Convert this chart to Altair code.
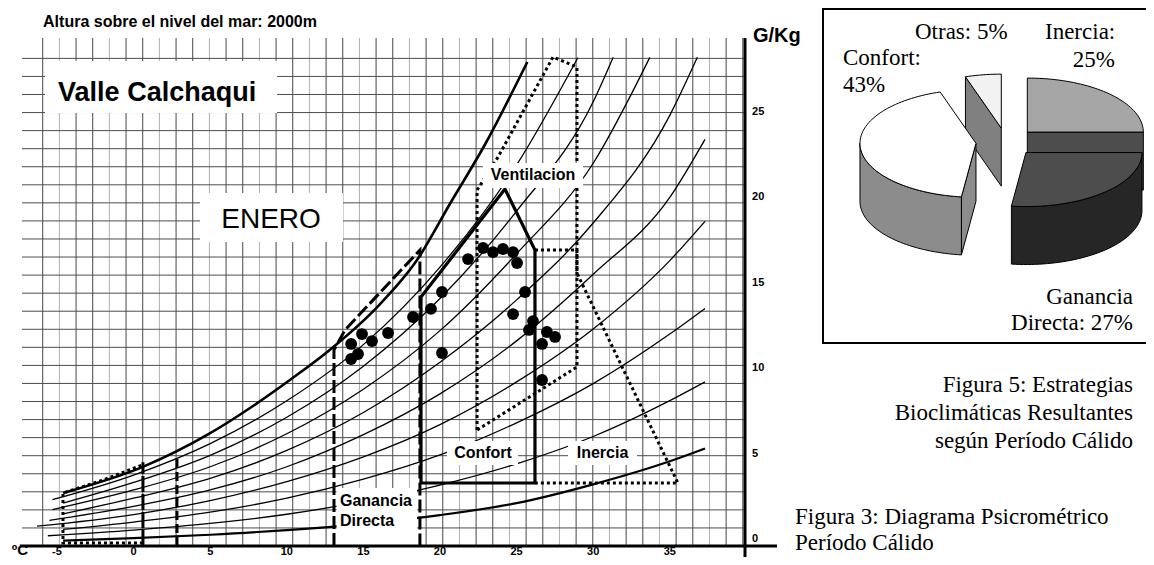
import math
import altair as alt
import pandas as pd

# ---------------- data ----------------
# relative-humidity curves: temperature (°C) and humidity ratio (g/kg)
rh100_t = [-4.6, 0.6, 4.8, 7.6, 10.2, 12.8, 15.9, 18.5, 20.7, 23.0, 25.7]
rh100_w = [2.69, 4.22, 6.09, 7.67, 9.31, 11.07, 13.58, 16.33, 19.70, 23.20, 27.93]
rh90_t = [-5.3, 0, 5, 10, 15, 20, 25, 29.0]
rh90_w = [2.30, 3.74, 5.58, 8.09, 11.38, 15.92, 21.90, 28.18]
rh80_t = [-4.6, 0, 5, 10, 15, 20, 25, 30, 31.3]
rh80_w = [2.10, 3.31, 4.90, 7.13, 10.12, 14.08, 19.20, 25.60, 28.20]
rh70_t = [-5.3, 0, 5, 10, 15, 20, 25, 30, 33.7]
rh70_w = [1.72, 2.87, 4.23, 6.16, 8.77, 12.20, 16.70, 22.00, 28.20]
rh60_t = [-4.6, 0, 5, 10, 15, 20, 25, 30, 35, 36.8]
rh60_w = [1.47, 2.39, 3.55, 5.19, 7.41, 10.35, 14.00, 18.50, 24.80, 28.20]
rh50_t = [-5.5, 0, 5, 10, 15, 20, 25, 30, 35, 37.3]
rh50_w = [1.09, 1.91, 2.87, 4.23, 6.11, 8.50, 11.60, 15.50, 20.00, 23.40]
rh40_t = [-6.3, 0, 5, 10, 15, 20, 25, 30, 35, 37.3]
rh40_w = [0.75, 1.43, 2.25, 3.36, 4.81, 6.70, 9.20, 12.30, 16.30, 18.60]
rh30_t = [-4.6, 0, 5, 10, 15, 20, 25, 30, 35, 37.3]
rh30_w = [0.56, 0.99, 1.57, 2.39, 3.50, 4.92, 6.80, 9.10, 12.00, 13.50]
rh20_t = [-5.6, 0, 5, 10, 15, 20, 25, 30, 35, 37.3]
rh20_w = [0.19, 0.52, 0.91, 1.45, 2.20, 3.16, 4.40, 6.00, 8.10, 9.20]
rh10_t = [-4.6, 0, 5, 10, 15, 20, 25, 30, 35, 37.3]
rh10_w = [-0.09, 0.05, 0.25, 0.52, 0.89, 1.40, 2.10, 3.20, 4.55, 5.30]

# strategy zones
comfort_t = [18.76, 26.20, 26.20, 24.24, 18.76, 18.76]
comfort_w = [3.28, 3.28, 16.92, 20.49, 14.17, 3.28]
vent_t = [22.42, 22.42, 23.79, 27.38, 28.94, 28.94, 22.42]
vent_w = [6.38, 20.43, 22.37, 28.22, 27.63, 10.07, 6.38]
inertia_t = [26.20, 28.94, 28.94, 35.53, 26.20]
inertia_w = [16.92, 16.92, 15.57, 3.28, 3.28]
gain_t = [13.08, 13.08, 13.80, 18.69, 18.69]
gain_w = [-0.41, 11.07, 12.24, 16.92, -0.41]
cold_t = [0.61, -4.61, -4.61, -2.0, 0.61]
cold_w = [-0.23, -0.23, 2.69, 3.45, 4.35]
cold_mid_t = [0.61, 0.61]
cold_mid_w = [-0.41, 4.50]
cold_right_t = [2.83, 2.83]
cold_right_w = [-0.41, 4.92]

# measured January points
pts_t = [14.20, 14.65, 14.20, 14.91, 15.56, 16.61, 18.24, 19.41, 20.13, 20.13, 21.83, 22.81,
         23.46, 24.11, 24.77, 25.03, 25.55, 24.77, 26.07, 25.81, 26.98, 27.51, 26.66, 26.66]
pts_w = [10.54, 10.83, 11.42, 12.00, 11.59, 12.06, 13.00, 13.47, 14.46, 10.89, 16.39, 17.04,
         16.80, 16.98, 16.80, 16.16, 14.46, 13.17, 12.76, 12.24, 12.12, 11.83, 11.42, 9.31]

x_ticks = [-5, 0, 5, 10, 15, 20, 25, 30, 35]
y_ticks = [0, 5, 10, 15, 20, 25]

# pie: clockwise from 12 o'clock
pie_labels = ["Inercia", "Ganancia Directa", "Confort", "Otras"]
pie_values = [25, 27, 43, 5]

# ---------------- layout ----------------
PL, PT, PW, PH = 22, 38, 723, 508          # plot rectangle on the page
TOTAL_W, TOTAL_H = 1138, 549
XD = [-7.285, 39.91]
YD = [-0.4098, 29.333]
XS = alt.Scale(domain=XD, nice=False, zero=False)
YS = alt.Scale(domain=YD, nice=False, zero=False)

PCX, PCY, RX, RY = 1006, 142, 116, 54       # pie centre / radii on the page
US = alt.Scale(domain=[(PL - PCX) / RX, (PL + PW - PCX) / RX], nice=False, zero=False)
VS = alt.Scale(domain=[(PCY - (PT + PH)) / RY, (PCY - PT) / RY], nice=False, zero=False)


def pu(px):
    return (px - PCX) / RX


def pv(py):
    return (PCY - py) / RY


def X(f="T"):
    return alt.X(f"{f}:Q", scale=XS, axis=None, title=None)


def Y(f="W"):
    return alt.Y(f"{f}:Q", scale=YS, axis=None, title=None)


def path_df(ts, ws, key="a"):
    return pd.DataFrame({"T": ts, "W": ws, "i": list(range(len(ts))), "k": key})


def path_layer(df, **mk):
    return alt.Chart(df).mark_line(**mk).encode(x=X(), y=Y(), order="i:Q", detail="k:N")


LS = "Liberation Sans"
SERIF = "Liberation Serif"

layers = []

# grid
vk = list(range(43))
vgrid = pd.DataFrame({
    "T": [-5.933 + 1.0881 * k for k in vk],
    "y0": YD[0], "y1": YD[1],
    "c": ["#b0b0b0" if k % 3 == 1 else "#474747" for k in vk],
})
layers.append(alt.Chart(vgrid).mark_rule(strokeWidth=1).encode(
    x=X(), y=Y("y0"), y2="y1:Q", color=alt.Color("c:N", scale=None)))

hgrid = pd.DataFrame({"W": [28.14 - 1.0574 * j for j in range(27)], "x0": XD[0], "x1": XD[1]})
layers.append(alt.Chart(hgrid).mark_rule(strokeWidth=1, color="#4d4d4d").encode(
    y=Y(), x=X("x0"), x2="x1:Q"))

# humidity curves
thin = pd.concat([path_df(t, w, k) for t, w, k in [
    (rh90_t, rh90_w, "90"), (rh80_t, rh80_w, "80"), (rh70_t, rh70_w, "70"),
    (rh60_t, rh60_w, "60"), (rh50_t, rh50_w, "50"), (rh40_t, rh40_w, "40"),
    (rh30_t, rh30_w, "30"), (rh20_t, rh20_w, "20")]])
layers.append(path_layer(thin, interpolate="monotone", color="black", strokeWidth=1.3))
layers.append(path_layer(path_df(rh10_t, rh10_w), interpolate="monotone", color="black", strokeWidth=2.2))
layers.append(path_layer(path_df(rh100_t, rh100_w), interpolate="monotone", color="black", strokeWidth=2.6))

# zones
layers.append(path_layer(path_df(cold_t, cold_w), color="black", strokeWidth=3, strokeDash=[3, 3]))
layers.append(path_layer(path_df(cold_mid_t, cold_mid_w), color="black", strokeWidth=3, strokeDash=[16, 2]))
layers.append(path_layer(path_df(cold_right_t, cold_right_w), color="black", strokeWidth=3, strokeDash=[9, 4]))
layers.append(path_layer(path_df(gain_t, gain_w), color="black", strokeWidth=3, strokeDash=[13, 4]))
layers.append(path_layer(path_df(vent_t, vent_w), color="black", strokeWidth=3, strokeDash=[3, 3]))
layers.append(path_layer(path_df(inertia_t, inertia_w), color="black", strokeWidth=3, strokeDash=[3, 3]))
layers.append(path_layer(path_df(comfort_t, comfort_w), color="black", strokeWidth=3.2))

# white label boxes
boxes = pd.DataFrame({
    "x0": [-5.78, 4.34, 22.81, 20.46, 28.36, 13.25],
    "x1": [9.36, 13.67, 29.34, 25.09, 32.86, 18.50],
    "y0": [24.94, 17.39, 20.55, 4.33, 4.33, -0.35],
    "y1": [27.99, 20.26, 22.01, 5.74, 5.74, 2.99],
})
layers.append(alt.Chart(boxes).mark_rect(fill="white").encode(x=X("x0"), x2="x1:Q", y=Y("y0"), y2="y1:Q"))

# points
layers.append(alt.Chart(pd.DataFrame({"T": pts_t, "W": pts_w})).mark_circle(
    size=140, color="black", opacity=1).encode(x=X(), y=Y()))


def psy_text(text, t, w, size, weight="bold", align="left", font=LS):
    df = pd.DataFrame({"T": [t], "W": [w], "txt": [text]})
    return alt.Chart(df).mark_text(font=font, fontSize=size, fontWeight=weight, align=align,
                                   baseline="middle", color="black").encode(x=X(), y=Y(), text="txt:N")


layers += [
    psy_text("Altura sobre el nivel del mar: 2000m", -5.91, 30.27, 16),
    psy_text("Valle Calchaqui", -4.93, 26.11, 27),
    psy_text("ENERO", 8.97, 18.68, 28, weight="normal", align="center"),
    psy_text("Ventilacion", 26.07, 21.31, 16, align="center"),
    psy_text("Confort", 22.81, 5.04, 16, align="center"),
    psy_text("Inercia", 30.61, 5.04, 16, align="center"),
    psy_text("Ganancia", 13.47, 2.22, 16),
    psy_text("Directa", 13.47, 1.05, 16),
    psy_text("G/Kg", 40.43, 29.45, 20),
]

# tick labels (placed through the scales)
xt = pd.DataFrame({"T": x_ticks, "W": -0.76, "txt": [str(v) for v in x_ticks]})
layers.append(alt.Chart(xt).mark_text(font=LS, fontSize=11, fontWeight="bold", align="center",
                                      baseline="middle", color="black").encode(x=X(), y=Y(), text="txt:N"))
yt = pd.DataFrame({"T": 40.37, "W": y_ticks, "txt": [str(v) for v in y_ticks]})
layers.append(alt.Chart(yt).mark_text(font=LS, fontSize=11, fontWeight="bold", align="left",
                                      baseline="middle", color="black").encode(x=X(), y=Y(), text="txt:N"))

# heavy axis lines
axes_df = pd.DataFrame({"T": [39.91], "W0": [-1.05], "W1": [YD[1]]})
layers.append(alt.Chart(axes_df).mark_rule(strokeWidth=3, color="black").encode(
    x=X(), y=Y("W0"), y2="W1:Q"))
base_df = pd.DataFrame({"W": [YD[0]], "T0": [-7.42], "T1": [42.0]})
layers.append(alt.Chart(base_df).mark_rule(strokeWidth=3, color="black").encode(
    y=Y(), x=X("T0"), x2="T1:Q"))

# unit label at the bottom-left corner (drawn after the baseline)
layers.append(psy_text("ºC", -7.95, -0.62, 15))

psy = alt.layer(*layers)

# ---------------- 3-D pie ----------------
EXPL = 0.26
DEPTH = 58 / RY
pie_top = ["#a6a6a6", "#4d4d4d", "#ffffff", "#f2f2f2"]
pie_side = ["#4d4d4d", "#262626", "#8c8c8c", "#808080"]
draw_order = [3, 0, 2, 1]

slices = []
cum = 0
for val in pie_values:
    b = 90 - cum * 3.6
    a = b - val * 3.6
    cum += val
    slices.append((a, b))


def rim(c, th, dv=0.0):
    r = math.radians(th)
    return (c[0] + math.cos(r), c[1] + math.sin(r) - dv)


def arc_pts(c, t0, t1, dv=0.0):
    n = max(2, int(abs(t1 - t0) / 2) + 1)
    return [rim(c, t0 + (t1 - t0) * s / n, dv) for s in range(n + 1)]


def U(f="u"):
    return alt.X(f"{f}:Q", scale=US, axis=None, title=None)


def V(f="v"):
    return alt.Y(f"{f}:Q", scale=VS, axis=None, title=None)


pie_layers = []
frame = pd.DataFrame({"u0": [pu(823)], "u1": [pu(1162)], "v0": [pv(9)], "v1": [pv(343)]})
pie_layers.append(alt.Chart(frame).mark_rect(fill="white", stroke="black", strokeWidth=2).encode(
    x=U("u0"), x2="u1:Q", y=V("v0"), y2="v1:Q"))

for idx in draw_order:
    a, b = slices[idx]
    m = math.radians((a + b) / 2)
    c = (EXPL * math.cos(m), EXPL * math.sin(m))
    polys = []
    for th, vis in ((a, math.cos(math.radians(a)) > 0.01), (b, math.cos(math.radians(b)) < -0.01)):
        if vis:
            p = rim(c, th)
            polys.append(([c, p, (p[0], p[1] - DEPTH), (c[0], c[1] - DEPTH), c], pie_side[idx]))
    for k in (-1, 0, 1):
        lo = max(a, -180 + 360 * k)
        hi = min(b, 360 * k)
        if hi - lo > 0.5:
            pts = arc_pts(c, lo, hi) + arc_pts(c, hi, lo, DEPTH)
            pts.append(pts[0])
            polys.append((pts, pie_side[idx]))
    polys.append(([c] + arc_pts(c, a, b) + [c], pie_top[idx]))
    for pts, col in polys:
        df = pd.DataFrame({"u": [p[0] for p in pts], "v": [p[1] for p in pts], "i": list(range(len(pts)))})
        pie_layers.append(alt.Chart(df).mark_line(fill=col, stroke="black", strokeWidth=1,
                                                  strokeJoin="round").encode(x=U(), y=V(), order="i:Q"))


def pie_text(text, px, py, align="left", size=23):
    df = pd.DataFrame({"u": [pu(px)], "v": [pv(py)], "txt": [text]})
    return alt.Chart(df).mark_text(font=SERIF, fontSize=size, align=align, baseline="middle",
                                   color="black").encode(x=U(), y=V(), text="txt:N")


pie_layers += [
    pie_text("Otras: 5%", 915, 32),
    pie_text("Inercia:", 1045, 32),
    pie_text("25%", 1115, 60, "right"),
    pie_text("Confort:", 843, 58),
    pie_text("43%", 843, 85),
    pie_text("Ganancia", 1133, 297, "right"),
    pie_text("Directa: 27%", 1133, 323, "right"),
    pie_text("Figura 5: Estrategias", 1133, 385, "right"),
    pie_text("Bioclimáticas Resultantes", 1133, 413, "right"),
    pie_text("según Período Cálido", 1133, 441, "right"),
    pie_text("Figura 3: Diagrama Psicrométrico", 795, 517),
    pie_text("Período Cálido", 795, 543),
]

pie = alt.layer(*pie_layers)

chart = alt.layer(psy, pie).resolve_scale(x="independent", y="independent").properties(
    width=PW, height=PH,
    padding={"left": PL - 8, "top": PT - 8, "right": TOTAL_W - (PL - 8) - PW,
             "bottom": TOTAL_H - (PT - 8) - PH},
    autosize=alt.AutoSizeParams(type="none"),
    background="white",
).configure_view(stroke=None)

chart.save("out.html", embed_options={"renderer": "svg", "actions": False})
